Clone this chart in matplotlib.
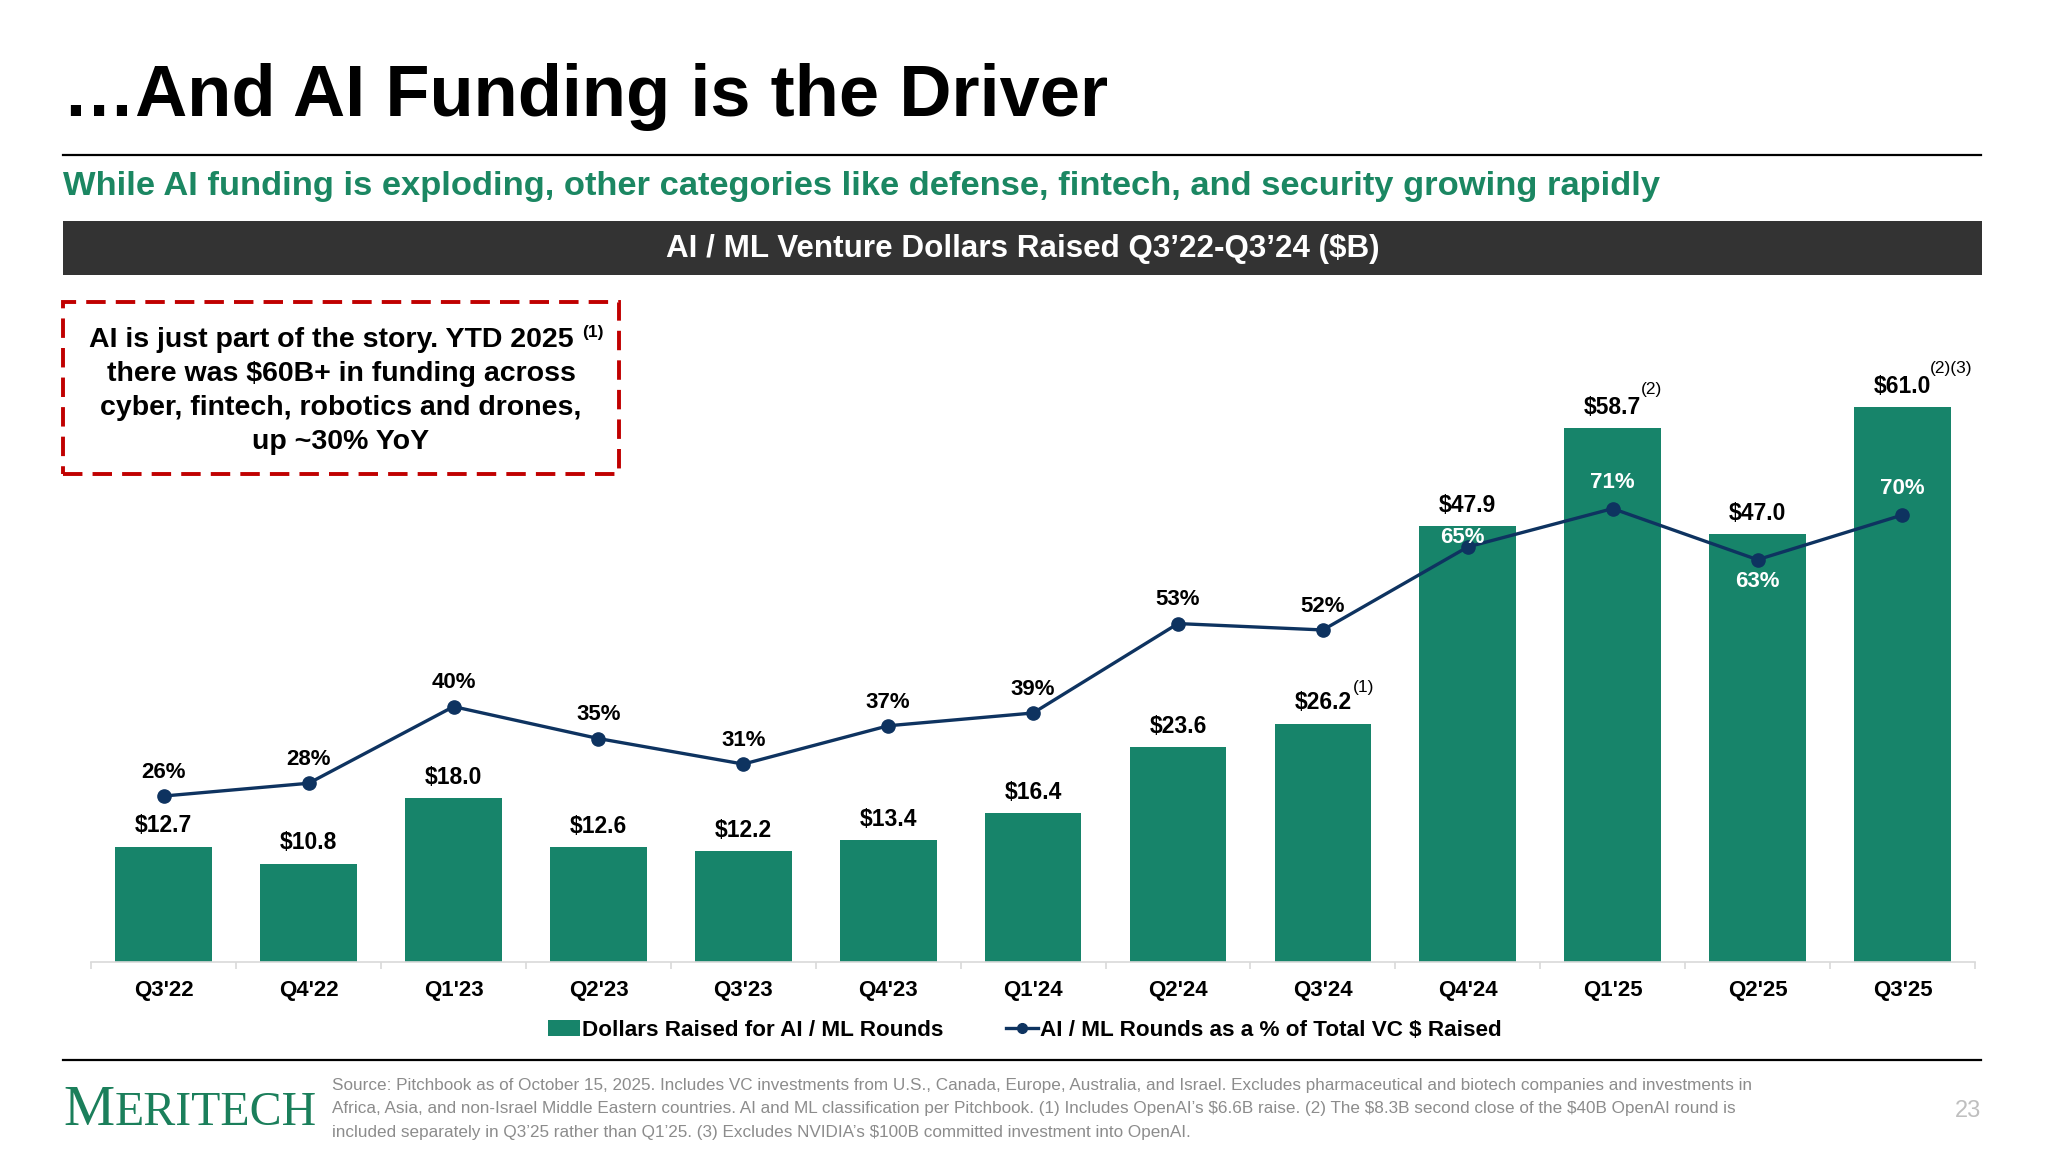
import numpy as np
import matplotlib.pyplot as plt
from matplotlib.patches import Rectangle, Patch
from matplotlib.lines import Line2D

# data
quarters = ["Q3'22", "Q4'22", "Q1'23", "Q2'23", "Q3'23", "Q4'23", "Q1'24",
            "Q2'24", "Q3'24", "Q4'24", "Q1'25", "Q2'25", "Q3'25"]
dollars = [12.7, 10.8, 18.0, 12.6, 12.2, 13.4, 16.4, 23.6, 26.2, 47.9, 58.7, 47.0, 61.0]
pct = [26, 28, 40, 35, 31, 37, 39, 53, 52, 65, 71, 63, 70]
notes = {8: "(1)", 10: "(2)", 12: "(2)(3)"}

green = "#17846a"
navy = "#0e3360"
plt.rcParams['font.family'] = ['Liberation Sans', 'DejaVu Sans']

fig = plt.figure(figsize=(20.48, 11.5), dpi=100)

# header
fig.text(0.031, 0.9157, "\u2026And AI Funding is the Driver", fontsize=52, fontweight='bold',
         va='center', ha='left', color='black')
fig.add_artist(Line2D([0.031, 0.9673], [0.865, 0.865], color='black', lw=1.6))
fig.text(0.031, 0.8379, "While AI funding is exploding, other categories like defense, fintech, and security growing rapidly",
         fontsize=24.8, fontweight='bold', color="#1b8762", va='center', ha='left')
fig.add_artist(Rectangle((0.0308, 0.7611), 0.9372, 0.047, transform=fig.transFigure,
                         facecolor="#333333", edgecolor='none'))
fig.text(0.4995, 0.7835, "AI / ML Venture Dollars Raised Q3\u201922-Q3\u201924 ($B)", fontsize=22.6,
         fontweight='bold', color='white', ha='center', va='center')

# chart
ax = fig.add_axes([0.0446, 0.1634, 0.9197, 0.5554])
x = np.arange(len(quarters))
ax.bar(x, dollars, width=0.667, color=green, zorder=2)
ax.set_xlim(-0.5, len(quarters) - 0.5)
ax.set_ylim(0, 70.2)
ax.set_yticks([])
for s in ['top', 'right', 'left']:
    ax.spines[s].set_visible(False)
ax.spines['bottom'].set_color('#d9d9d9')
ax.spines['bottom'].set_linewidth(1.2)
ax.set_xticks(x)
ax.set_xticklabels(quarters, fontsize=16, fontweight='bold')
ax.tick_params(axis='x', which='major', length=0, pad=13)
ax.set_xticks(np.arange(-0.5, len(quarters)), minor=True)
ax.tick_params(axis='x', which='minor', length=5, color='#d9d9d9', width=1.2)

note_off = {8: (29, 26), 10: (28, 28), 12: (35, 28)}
for i, v in enumerate(dollars):
    ax.annotate(f"${v:.1f}", (i, v), xytext=(0, 15), textcoords='offset points',
                ha='center', va='center', fontsize=16.5, fontweight='bold')
    if i in notes:
        ax.annotate(notes[i], (i, v), xytext=note_off[i], textcoords='offset points',
                    ha='center', va='center', fontsize=12.5)

ax2 = ax.twinx()
ax2.set_ylim(0, 100)
ax2.axis('off')
ax2.plot(x, pct, color=navy, lw=2.4, marker='o', markersize=9.5, zorder=3)
for i, p in enumerate(pct):
    dx, dy, col = 0, 17, 'black'
    if i == 9:
        dx, dy, col = -4, 6.5, 'white'
    elif i in (10, 12):
        dy, col = 19, 'white'
    elif i == 11:
        dy, col = -16, 'white'
    ax2.annotate(f"{p}%", (i, p), xytext=(dx, dy), textcoords='offset points',
                 ha='center', va='center', fontsize=16, fontweight='bold', color=col)

handles = [Patch(facecolor=green, edgecolor='none'),
           Line2D([], [], color=navy, lw=2.4, marker='o', markersize=7)]
fig.legend(handles, ["Dollars Raised for AI / ML Rounds", "AI / ML Rounds as a % of Total VC $ Raised"],
           loc='center', bbox_to_anchor=(0.5004, 0.104), ncol=2, frameon=False,
           prop={'size': 16.2, 'weight': 'bold'}, handlelength=1.4, handletextpad=0.1,
           columnspacing=2.8)

# callout box
fig.add_artist(Rectangle((0.0308, 0.5875), 0.2716, 0.1501, transform=fig.transFigure,
                         facecolor='none', edgecolor='#c00000', lw=2.8, linestyle=(0, (5, 2.6))))
box_lines = ["AI is just part of the story. YTD 2025", "there was $60B+ in funding across",
             "cyber, fintech, robotics and drones,", "up ~30% YoY"]
ys = [0.7043, 0.6748, 0.6452, 0.6157]
for k, (t, yy) in enumerate(zip(box_lines, ys)):
    fig.text(0.1616 if k == 0 else 0.1665, yy, t, fontsize=20.5, fontweight='bold', ha='center', va='center')
fig.text(0.2896, 0.7113, "(1)", fontsize=12.5, fontweight='bold', ha='center', va='center')

# footer
fig.add_artist(Line2D([0.0308, 0.9673], [0.0785, 0.0785], color='black', lw=1.6))
m = fig.text(0.031, 0.0221, "M", family='Liberation Serif', fontsize=41.5, color="#1b7f5b",
             ha='left', va='baseline')
fig.canvas.draw()
bb = m.get_window_extent().transformed(fig.transFigure.inverted())
fig.text(bb.x1, 0.0221, "ERITECH", family='Liberation Serif', fontsize=34.5, color="#1b7f5b",
         ha='left', va='baseline')

foot = ["Source: Pitchbook as of October 15, 2025. Includes VC investments from U.S., Canada, Europe, Australia, and Israel. Excludes pharmaceutical and biotech companies and investments in",
        "Africa, Asia, and non-Israel Middle Eastern countries. AI and ML classification per Pitchbook. (1) Includes OpenAI\u2019s $6.6B raise. (2) The $8.3B second close of the $40B OpenAI round is",
        "included separately in Q3\u201925 rather than Q1\u201925. (3) Excludes NVIDIA\u2019s $100B committed investment into OpenAI."]
for t, yy in zip(foot, [0.0562, 0.0364, 0.0156]):
    fig.text(0.1623, yy, t, fontsize=12.3, color='#8c8c8c', ha='left', va='center',
             family=['Liberation Sans Narrow', 'Liberation Sans'])
fig.text(0.9608, 0.0343, "23", fontsize=17, color='#bfbfbf', ha='center', va='center')

fig.savefig("out.png", dpi=100)
